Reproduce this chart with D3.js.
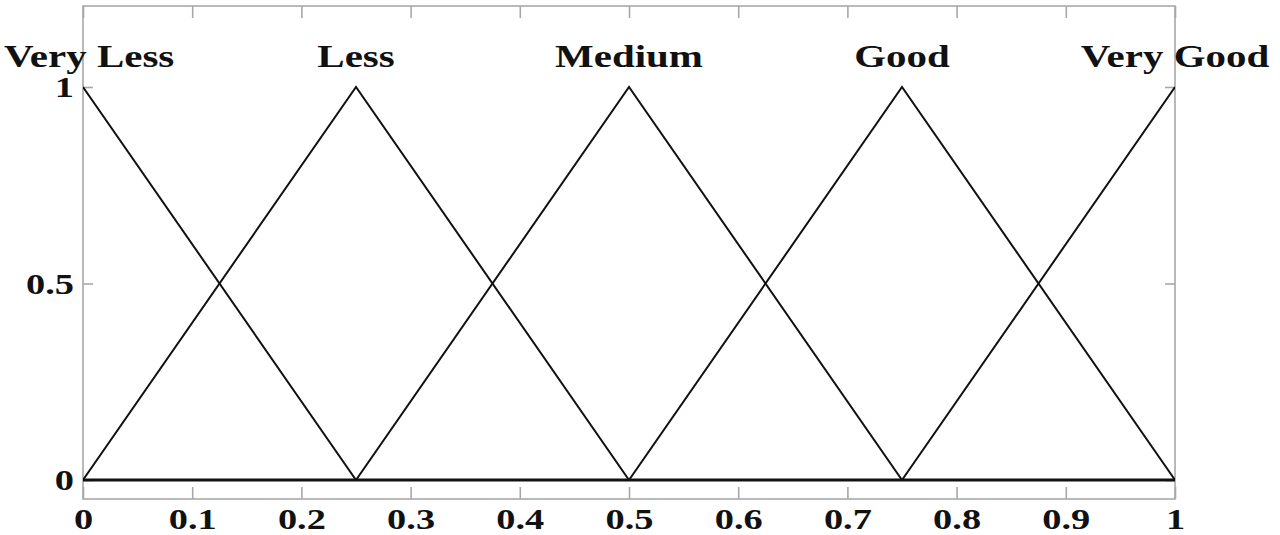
<!DOCTYPE html>
<html>
<head>
<meta charset="utf-8">
<script src="https://cdn.jsdelivr.net/npm/d3@7"></script>
<style>
  body { margin: 0; background: #fff; }
  svg { display: block; }
  .lbl { font-family: "Liberation Serif", "DejaVu Serif", serif; font-weight: bold; fill: #111; }
</style>
</head>
<body>
<div id="chart"></div>
<script>
// membership function names and triangle params [left, peak, right]
var mfNames = ["Very Less", "Less", "Medium", "Good", "Very Good"];
var mfLeft  = [-0.25, 0.00, 0.25, 0.50, 0.75];
var mfPeak  = [ 0.00, 0.25, 0.50, 0.75, 1.00];
var mfRight = [ 0.25, 0.50, 0.75, 1.00, 1.25];

var xTicks = [0, 0.1, 0.2, 0.3, 0.4, 0.5, 0.6, 0.7, 0.8, 0.9, 1];
var xTickLabels = ["0", "0.1", "0.2", "0.3", "0.4", "0.5", "0.6", "0.7", "0.8", "0.9", "1"];
var yTicks = [0, 0.5, 1];
var yTickLabels = ["0", "0.5", "1"];

var W = 1280, H = 535;
var frame = {left: 83, right: 1175, top: 6, bottom: 499};
var stretch = 1.28; // the text in the picture is wider than it is tall

var x = d3.scaleLinear().domain([0, 1]).range([frame.left, frame.right]);
var y = d3.scaleLinear().domain([0, 1]).range([480, 87]);

var svg = d3.select("#chart").append("svg")
  .attr("width", W)
  .attr("height", H);

svg.append("defs").append("clipPath").attr("id", "plotclip")
  .append("rect")
  .attr("x", frame.left).attr("y", frame.top)
  .attr("width", frame.right - frame.left).attr("height", frame.bottom - frame.top);

// frame
svg.append("rect")
  .attr("x", frame.left).attr("y", frame.top)
  .attr("width", frame.right - frame.left).attr("height", frame.bottom - frame.top)
  .attr("fill", "none")
  .attr("stroke", "#a8a8a8")
  .attr("stroke-width", 1.6);

function styleAxis(g) {
  g.select(".domain").remove();
  g.selectAll(".tick line").attr("stroke", "#a8a8a8").attr("stroke-width", 1.6);
}

// bottom axis with labels
var xAxis = d3.axisBottom(x).tickValues(xTicks)
  .tickFormat(function(d, i) { return xTickLabels[i]; })
  .tickSizeInner(-12).tickSizeOuter(0).tickPadding(9);

var gx = svg.append("g")
  .attr("transform", "translate(0," + frame.bottom + ")")
  .call(xAxis)
  .call(styleAxis);
gx.selectAll(".tick text")
  .attr("class", "lbl")
  .style("font-size", "30px")
  .attr("transform", "scale(" + stretch + ",1)");

// top axis, ticks only
svg.append("g")
  .attr("transform", "translate(0," + frame.top + ")")
  .call(d3.axisTop(x).tickValues(xTicks).tickFormat("").tickSizeInner(-12).tickSizeOuter(0))
  .call(styleAxis);

// left axis with labels
var yAxis = d3.axisLeft(y).tickValues(yTicks)
  .tickFormat(function(d, i) { return yTickLabels[i]; })
  .tickSizeInner(-10).tickSizeOuter(0).tickPadding(7);

var gy = svg.append("g")
  .attr("transform", "translate(" + frame.left + ",0)")
  .call(yAxis)
  .call(styleAxis);
gy.selectAll(".tick text")
  .attr("class", "lbl")
  .style("font-size", "30px")
  .attr("transform", "scale(" + stretch + ",1)");

// right axis, ticks only
svg.append("g")
  .attr("transform", "translate(" + frame.right + ",0)")
  .call(d3.axisRight(y).tickValues(yTicks).tickFormat("").tickSizeInner(-10).tickSizeOuter(0))
  .call(styleAxis);

// membership functions
function mf(v, i) {
  if (v === mfPeak[i]) return 1;
  if (v <= mfLeft[i] || v >= mfRight[i]) return 0;
  if (v <= mfPeak[i]) return (v - mfLeft[i]) / (mfPeak[i] - mfLeft[i]);
  return (mfRight[i] - v) / (mfRight[i] - mfPeak[i]);
}

var line = d3.line()
  .x(function(d) { return x(d[0]); })
  .y(function(d) { return y(d[1]); });

var plot = svg.append("g").attr("clip-path", "url(#plotclip)");

mfNames.forEach(function(name, i) {
  var xs = [0, mfLeft[i], mfPeak[i], mfRight[i], 1]
    .filter(function(v) { return v >= 0 && v <= 1; })
    .sort(d3.ascending);
  xs = xs.filter(function(v, k) { return k === 0 || v !== xs[k - 1]; });
  var pts = xs.map(function(v) { return [v, mf(v, i)]; });
  plot.append("path")
    .datum(pts)
    .attr("d", line)
    .attr("fill", "none")
    .attr("stroke", "#111")
    .attr("stroke-width", 2);
});

// baseline drawn heavier
plot.append("line")
  .attr("x1", x(0)).attr("x2", x(1))
  .attr("y1", y(0)).attr("y2", y(0))
  .attr("stroke", "#111")
  .attr("stroke-width", 3.2);

// names above the peaks
mfNames.forEach(function(name, i) {
  var t = svg.append("text")
    .attr("class", "lbl")
    .attr("text-anchor", "middle")
    .style("font-size", "32px")
    .text(name);
  var cx = x(mfPeak[i]);
  var half = t.node().getComputedTextLength() * stretch / 2;
  cx = Math.max(cx, 4 + half);
  cx = Math.min(cx, W - 6 - half);
  t.attr("transform", "translate(" + cx + ",67) scale(" + stretch + ",1)");
});
</script>
</body>
</html>
